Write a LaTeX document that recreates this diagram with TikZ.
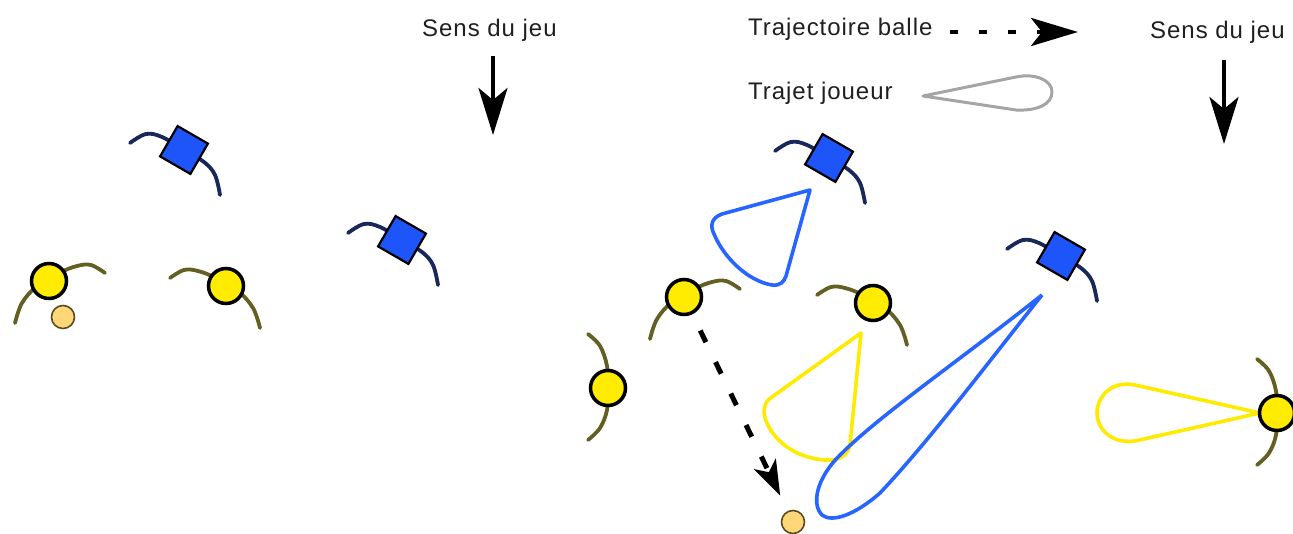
\documentclass[tikz,border=0pt]{standalone}
\usepackage{fontspec}
\setmainfont{Liberation Sans}
\usetikzlibrary{arrows.meta}

% team colours and drawing colours
\definecolor{pyellow}{RGB}{255,236,0}
\definecolor{parm}{RGB}{100,95,35}
\definecolor{pblue}{RGB}{30,85,250}
\definecolor{pnavy}{RGB}{25,40,90}
\definecolor{ballfill}{RGB}{255,214,120}
\definecolor{ballline}{RGB}{90,75,30}
\definecolor{runblue}{RGB}{40,100,255}
\definecolor{runyellow}{RGB}{255,235,0}
\definecolor{legendgray}{RGB}{165,165,165}

\tikzset{
  ycirc/.style={circle, draw=black, line width=3.5pt, fill=pyellow, minimum size=35pt, inner sep=0pt},
  bsq/.style={rectangle, draw=black, line width=2.2pt, fill=pblue, minimum size=35pt, inner sep=0pt, rotate=-30},
  ballnode/.style={circle, draw=ballline, line width=1.6pt, fill=ballfill, minimum size=23pt, inner sep=0pt},
  yarm/.style={draw=parm, line width=3.8pt, line cap=round},
  barm/.style={draw=pnavy, line width=3.8pt, line cap=round},
  lbl/.style={font=\fontsize{24}{28}\selectfont\addfontfeature{LetterSpace=4}, inner sep=0pt, text=black!88},
  dirarrow/.style={line width=4pt, -{Stealth[length=47pt,width=29pt,inset=12pt]}},
  balltraj/.style={line width=5pt, dash pattern=on 13pt off 22pt, -{Stealth[length=35pt,width=24pt,inset=9pt]}},
  legtraj/.style={line width=4.5pt, dash pattern=on 8pt off 21pt, -{Stealth[length=47pt,width=28pt,inset=11pt]}},
  runpath/.style={line width=3.6pt, line join=round},
  % yellow player, arms from lower left to upper right
  yplayerA/.pic={
    \draw[yarm] plot[smooth, tension=0.6] coordinates {(-34,42) (-27,22) (-12,5) (10,-8) (28,-15) (42,-16) (56,-8)};
    \node[ycirc] (-c) at (0,0) {};
  },
  % yellow player, arms from upper left to lower right
  yplayerB/.pic={
    \draw[yarm] plot[smooth, tension=0.6] coordinates {(34,42) (27,22) (12,5) (-10,-8) (-28,-15) (-42,-16) (-56,-8)};
    \node[ycirc] (-c) at (0,0) {};
  },
  % yellow player facing right, arms vertical
  yplayerC/.pic={
    \draw[yarm] plot[smooth, tension=0.6] coordinates {(-20,-54) (-8,-42) (-1,-22) (0,0) (-1,22) (-8,40) (-20,52)};
    \node[ycirc] (-c) at (0,0) {};
  },
  % blue player
  bplayer/.pic={
    \draw[barm] plot[smooth, tension=0.6] coordinates {(-54,-7) (-38,-16) (-22,-13) (0,0) (20,12) (31,25) (36,45)};
    \node[bsq] (-c) at (0,0) {};
  },
}

\begin{document}
\begin{tikzpicture}[x=1pt, y=-1pt]
\path[use as bounding box] (0,0) rectangle (1293,534);

% ---------- left situation ----------
\node[lbl, anchor=base west] (sdjL) at (422,37) {Sens du jeu};
\coordinate (sdjL-top) at (493,56);
\coordinate (sdjL-tip) at (493,135);
\draw[dirarrow] (sdjL-top) -- (sdjL-tip);

\pic (lb1) at (184,150) {bplayer};
\pic (lb2) at (402,240) {bplayer};
\pic (ly1) at (49,281) {yplayerA};
\pic (ly2) at (226,286) {yplayerB};
\node[ballnode] (lball) at (63,317) {};

% ---------- legend ----------
\node[lbl, anchor=base west] (legball) at (748,36) {Trajectoire balle};
\coordinate (legball-a) at (950,32);
\coordinate (legball-b) at (1078,32);
\draw[legtraj] (legball-a) -- (legball-b);

\node[lbl, anchor=base west] (legrun) at (748,100) {Trajet joueur};
\draw[legendgray, line width=3pt, line join=round]
  (923,96) -- (1016,77) .. controls (1035,73) and (1052,80) .. (1052,92)
  .. controls (1052,104) and (1038,111) .. (1016,110) -- cycle;

% ---------- right situation ----------
\node[lbl, anchor=base west] (sdjR) at (1150,39) {Sens du jeu};
\coordinate (sdjR-top) at (1224,60);
\coordinate (sdjR-tip) at (1224,144);
\draw[dirarrow] (sdjR-top) -- (sdjR-tip);

% player runs
\draw[runpath, runblue]
  (810,190) -- (722,214) .. controls (711,218) and (710,226) .. (714,234)
  .. controls (724,258) and (748,281) .. (772,285)
  .. controls (780,286) and (784,282) .. (786,276) -- cycle;
\draw[runpath, runyellow]
  (861,333) -- (772,397) .. controls (764,402) and (763,410) .. (765,418)
  .. controls (772,440) and (795,458) .. (825,460)
  .. controls (840,461) and (848,455) .. (850,445) -- cycle;
\draw[runpath, runblue]
  (1042,295) .. controls (960,360) and (880,415) .. (840,455)
  .. controls (815,480) and (812,505) .. (822,515)
  .. controls (832,523) and (855,515) .. (880,493)
  .. controls (930,440) and (990,360) .. (1042,295);
\draw[runpath, runyellow]
  (1260,413) -- (1135,385) .. controls (1110,380) and (1097,398) .. (1097,413)
  .. controls (1097,428) and (1110,444) .. (1135,441) -- cycle;

% players
\pic (rb1) at (829,158) {bplayer};
\pic (rb2) at (1061,256) {bplayer};
\pic (ry1) at (684,297) {yplayerA};
\pic (ry2) at (873,303) {yplayerB};
\pic (ry3) at (608,388) {yplayerC};
\pic (ry4) at (1277,413) {yplayerC};
\node[ballnode] (rball) at (793,522) {};

% pass
\draw[balltraj, shorten <=18pt, shorten >=17pt] (ry1-c) -- (rball);
\end{tikzpicture}
\end{document}
